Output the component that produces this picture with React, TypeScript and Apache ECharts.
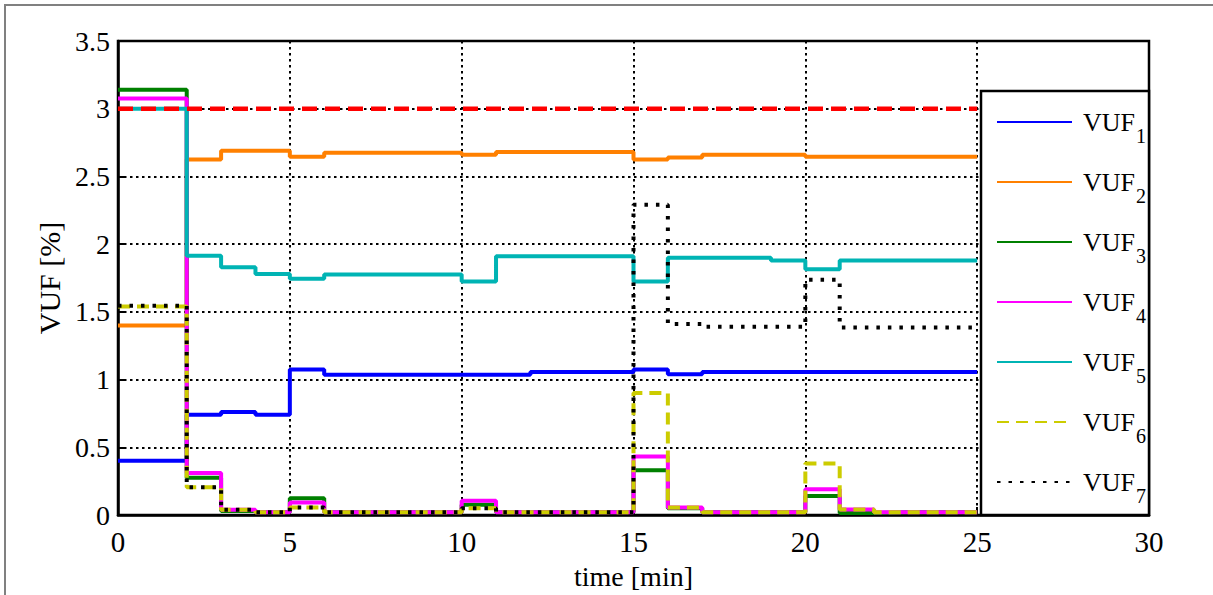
import React, { useEffect, useRef } from "react";
import * as echarts from "echarts";

// time grid (minutes), value of each step holds from t to t+1
const TIME_MIN = [0, 1, 2, 3, 4, 5, 6, 7, 8, 9, 10, 11, 12, 13, 14, 15, 16, 17, 18, 19, 20, 21, 22, 23, 24, 25];

const VUF1 = [0.4, 0.4, 0.74, 0.76, 0.74, 1.075, 1.035, 1.035, 1.035, 1.035, 1.035, 1.035, 1.055, 1.055, 1.055, 1.075, 1.04, 1.055, 1.055, 1.055, 1.055, 1.055, 1.055, 1.055, 1.055, 1.055];
const VUF2 = [1.4, 1.4, 2.625, 2.69, 2.69, 2.645, 2.675, 2.675, 2.675, 2.675, 2.66, 2.68, 2.68, 2.68, 2.68, 2.625, 2.64, 2.66, 2.66, 2.66, 2.645, 2.645, 2.645, 2.645, 2.645, 2.645];
const VUF3 = [3.14, 3.14, 0.275, 0.03, 0.02, 0.123, 0.02, 0.02, 0.02, 0.02, 0.075, 0.02, 0.02, 0.02, 0.02, 0.33, 0.05, 0.02, 0.02, 0.02, 0.14, 0.015, 0.02, 0.02, 0.02, 0.02];
const VUF4 = [3.075, 3.075, 0.31, 0.038, 0.02, 0.092, 0.02, 0.02, 0.02, 0.02, 0.105, 0.02, 0.02, 0.02, 0.02, 0.432, 0.055, 0.02, 0.02, 0.02, 0.19, 0.04, 0.02, 0.02, 0.02, 0.02];
const VUF5 = [3.0, 3.0, 1.915, 1.83, 1.78, 1.745, 1.775, 1.775, 1.775, 1.775, 1.725, 1.91, 1.91, 1.91, 1.91, 1.725, 1.9, 1.9, 1.9, 1.88, 1.815, 1.88, 1.88, 1.88, 1.88, 1.88];
const VUF6 = [1.54, 1.54, 0.205, 0.038, 0.02, 0.055, 0.02, 0.02, 0.02, 0.02, 0.05, 0.02, 0.02, 0.02, 0.02, 0.9, 0.055, 0.02, 0.02, 0.02, 0.38, 0.04, 0.02, 0.02, 0.02, 0.02];
const VUF7 = [1.545, 1.545, 0.205, 0.038, 0.02, 0.055, 0.02, 0.02, 0.02, 0.02, 0.05, 0.02, 0.02, 0.02, 0.02, 2.29, 1.41, 1.39, 1.39, 1.39, 1.737, 1.385, 1.385, 1.385, 1.385, 1.385];

const LIMIT_TIME = [0, 25];
const LIMIT_VALUE = [3.0, 3.0];

const SERIES_NAMES = ["VUF1", "VUF2", "VUF3", "VUF4", "VUF5", "VUF6", "VUF7"];

export default function App() {
  const ref = useRef<HTMLDivElement>(null);

  useEffect(() => {
    if (!ref.current) return;
    const chart = echarts.init(ref.current, null, { renderer: "svg" });
    const font = "Liberation Serif";
    const pts = (vals: number[]) => TIME_MIN.map((t, i) => [t, vals[i]]);

    const defs: any[] = [
      { data: VUF1, color: "#0000ff", type: "solid" },
      { data: VUF2, color: "#ff8000", type: "solid" },
      { data: VUF3, color: "#008000", type: "solid" },
      { data: VUF4, color: "#ff00ff", type: "solid" },
      { data: VUF5, color: "#00b4b4", type: "solid" },
      { data: VUF6, color: "#cccc00", type: [12, 7] },
      { data: VUF7, color: "#000000", type: [3.5, 8] },
    ];

    const series: any[] = defs.map((d, i) => ({
      name: SERIES_NAMES[i],
      type: "line",
      step: "end",
      symbol: "none",
      data: pts(d.data),
      color: d.color,
      lineStyle: { color: d.color, width: 4, type: d.type, cap: "butt" },
      z: 2,
    }));

    series.push({
      name: "limit",
      type: "line",
      symbol: "none",
      data: LIMIT_TIME.map((t, i) => [t, LIMIT_VALUE[i]]),
      lineStyle: { color: "#ff0000", width: 4.5, type: [15, 8], cap: "butt" },
      z: 2,
    });

    const axisCommon = {
      axisLine: { show: true, lineStyle: { color: "#000", width: 2.5 } },
      axisTick: { show: true, inside: true, length: 8, lineStyle: { color: "#000", width: 2 } },
      splitLine: { show: true, lineStyle: { color: "#000", width: 2, type: [2.5, 3.5] } },
    };

    chart.setOption({
      animation: false,
      backgroundColor: "#fff",
      textStyle: { fontFamily: font },
      grid: {
        left: 118,
        right: 64,
        top: 41,
        bottom: 80,
        outerBoundsMode: "none",
        containLabel: false,
        show: true,
        borderColor: "#000",
        borderWidth: 2.5,
        backgroundColor: "transparent",
      },
      xAxis: {
        type: "value",
        min: 0,
        max: 30,
        interval: 5,
        name: "time [min]",
        nameLocation: "middle",
        nameGap: 47,
        nameTextStyle: { fontSize: 28, color: "#000", fontFamily: font },
        axisLabel: { fontSize: 29, color: "#000", margin: 12, fontFamily: font },
        ...axisCommon,
      },
      yAxis: {
        type: "value",
        min: 0,
        max: 3.5,
        interval: 0.5,
        name: "VUF [%]",
        nameLocation: "middle",
        nameGap: 52,
        nameTextStyle: { fontSize: 30, color: "#000", fontFamily: font },
        axisLabel: { fontSize: 28, color: "#000", margin: 8, fontFamily: font },
        ...axisCommon,
      },
      legend: {
        data: SERIES_NAMES,
        orient: "vertical",
        left: 996,
        top: 98,
        padding: 0,
        itemWidth: 75,
        itemHeight: 14,
        itemGap: 12,
        selectedMode: false,
        z: 4,
        itemStyle: { opacity: 0 },
        formatter: (name: string) => `{m|VUF}{s|${name.slice(3)}}`,
        textStyle: {
          color: "#000",
          fontFamily: font,
          padding: [0, 0, 0, 6],
          rich: {
            m: { fontSize: 26, lineHeight: 48, fontFamily: font, color: "#000", verticalAlign: "middle" },
            s: { fontSize: 20, lineHeight: 20, padding: [28, 0, 0, 1], fontFamily: font, color: "#000", verticalAlign: "top" },
          },
        },
      },
      graphic: [
        {
          type: "rect",
          z: 3,
          silent: true,
          shape: { x: 981, y: 91, width: 168, height: 424 },
          style: { fill: "#fff", stroke: "#000", lineWidth: 2.5 },
        },
        {
          type: "polyline",
          z: 10,
          silent: true,
          shape: { points: [[5, 600], [5, 5], [1213, 5]] },
          style: { fill: "none", stroke: "#808080", lineWidth: 2 },
        },
      ],
      series,
    });

    return () => chart.dispose();
  }, []);

  return (
    <div
      ref={ref}
      style={{ position: "fixed", left: 0, top: 0, width: 1213, height: 595 }}
    />
  );
}
